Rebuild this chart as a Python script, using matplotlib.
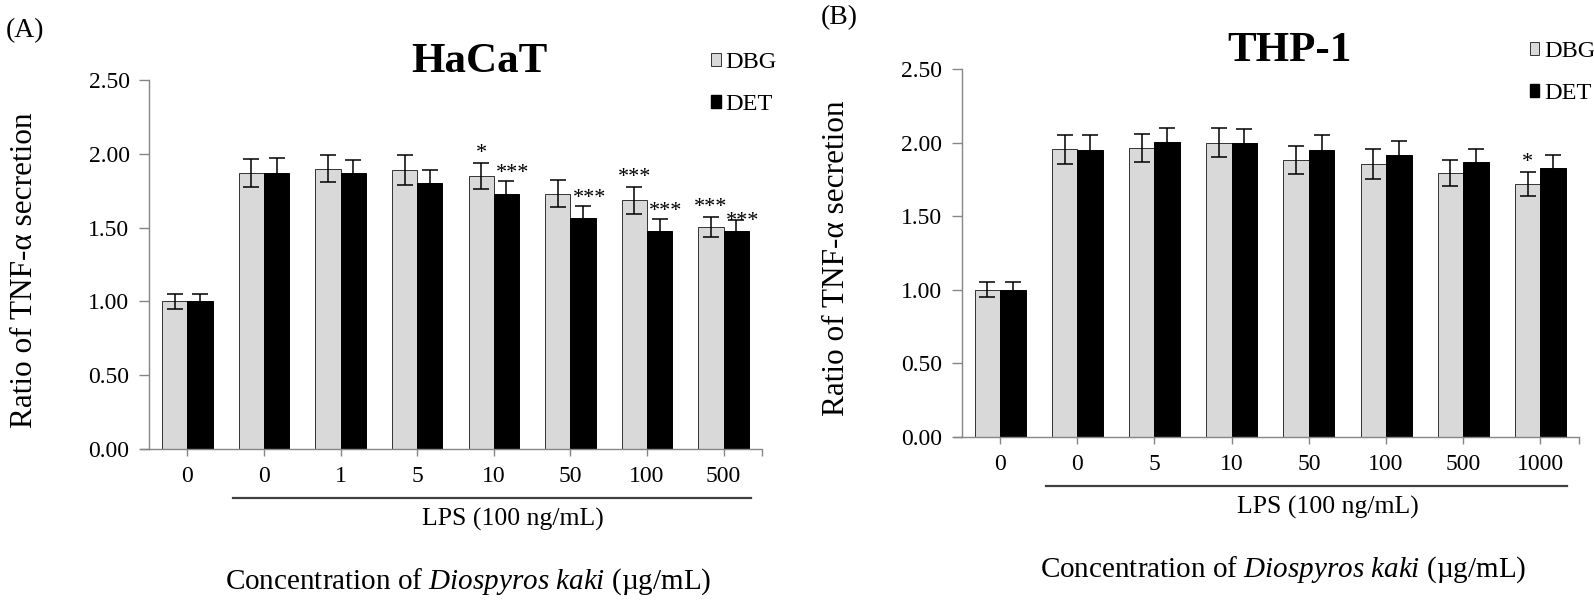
import numpy as np
import matplotlib
matplotlib.use('Agg')
import matplotlib.pyplot as plt
from matplotlib.patches import Patch
from matplotlib.lines import Line2D

plt.rcParams['font.family'] = ['Liberation Serif', 'DejaVu Serif']
plt.rcParams['mathtext.fontset'] = 'custom'
plt.rcParams['mathtext.rm'] = 'Liberation Serif'
plt.rcParams['mathtext.it'] = 'Liberation Serif:italic'

# HaCaT data
hacat_labels = ['0', '0', '1', '5', '10', '50', '100', '500']
hacat_dbg = [1.00, 1.87, 1.90, 1.89, 1.85, 1.73, 1.685, 1.505]
hacat_dbg_err = [0.05, 0.095, 0.09, 0.10, 0.09, 0.09, 0.09, 0.07]
hacat_det = [1.00, 1.87, 1.87, 1.80, 1.725, 1.565, 1.475, 1.475]
hacat_det_err = [0.05, 0.10, 0.09, 0.09, 0.09, 0.08, 0.08, 0.075]
hacat_dbg_sig = ['', '', '', '', '*', '', '***', '***']
hacat_det_sig = ['', '', '', '', '***', '***', '***', '***']

# THP-1 data
thp_labels = ['0', '0', '5', '10', '50', '100', '500', '1000']
thp_dbg = [1.00, 1.955, 1.965, 2.00, 1.885, 1.855, 1.795, 1.72]
thp_dbg_err = [0.05, 0.10, 0.095, 0.10, 0.095, 0.10, 0.09, 0.08]
thp_det = [1.00, 1.95, 2.005, 1.995, 1.95, 1.915, 1.865, 1.825]
thp_det_err = [0.05, 0.10, 0.095, 0.095, 0.10, 0.095, 0.09, 0.09]
thp_dbg_sig = ['', '', '', '', '', '', '', '*']
thp_det_sig = ['', '', '', '', '', '', '', '']

GRAY = '#d9d9d9'
AX_COL = '#868686'

fig = plt.figure(figsize=(15.94, 6.03), dpi=100)
W, H = 1594, 603
axA = fig.add_axes([141.3 / W, 1 - 449 / H, (762 - 141.3) / W, 369 / H])
axB = fig.add_axes([953.8 / W, 1 - 437 / H, (1579 - 953.8) / W, 368 / H])

def draw(ax, labels, dbg, dbg_err, det, det_err, dbg_sig, det_sig, title, tx, legx, legy):
    x = np.arange(len(labels))
    w = 0.33
    ekw = dict(ecolor='black', elinewidth=1.1, capsize=5.5, capthick=1.1)
    ax.bar(x - w / 2, dbg, w, yerr=dbg_err, color=GRAY, edgecolor='#333333',
           linewidth=0.7, error_kw=ekw, label='DBG', zorder=2)
    ax.bar(x + w / 2, det, w, yerr=det_err, color='black', edgecolor='black',
           linewidth=0.7, error_kw=ekw, label='DET', zorder=2)
    for i in range(len(labels)):
        if dbg_sig[i]:
            ax.text(x[i] - w / 2, dbg[i] + dbg_err[i] + 0.0, dbg_sig[i],
                    ha='center', va='bottom', fontsize=16)
        if det_sig[i]:
            off = 0.0 if i < len(labels) - 1 else -0.06
            ax.text(x[i] + w / 2 + 0.08, det[i] + det_err[i] + off - 0.01, det_sig[i],
                    ha='center', va='bottom', fontsize=16)
    ax.set_xlim(-0.6, 7.5)
    ax.set_ylim(0, 2.5)
    ax.set_yticks(np.arange(0, 2.51, 0.5))
    ax.set_yticklabels(['%.2f' % v for v in np.arange(0, 2.51, 0.5)])
    ax.set_xticks(x)
    ax.set_xticklabels(labels)
    ax.set_xticks([7.5], minor=True)
    ax.spines['top'].set_visible(False)
    ax.spines['right'].set_visible(False)
    ax.spines['left'].set_position(('data', -0.5))
    for s in ['left', 'bottom']:
        ax.spines[s].set_color(AX_COL)
        ax.spines[s].set_linewidth(1.0)
    ax.tick_params(axis='both', which='both', colors=AX_COL, labelcolor='black',
                   labelsize=17, width=1.0)
    ax.tick_params(axis='x', which='both', length=5, pad=7)
    ax.tick_params(axis='y', length=7, pad=7)
    ax.set_ylabel('Ratio of TNF-α secretion', fontsize=22.5)
    ax.yaxis.set_label_coords(-0.165, 0.485)
    ax.text(tx, 2.62, title, fontsize=31, fontweight='bold', ha='center', va='center')
    trans = ax.get_xaxis_transform()
    ax.add_line(Line2D([0.6, 7.35], [-0.133, -0.133], transform=trans, color='#404040',
                       lw=1.6, clip_on=False))
    ax.text(4.25, -0.192, 'LPS (100 ng/mL)', transform=trans, fontsize=18.5,
            ha='center', va='center')
    ax.text(3.67, -0.36, r'Concentration of $\mathit{Diospyros\ kaki}$ (µg/mL)',
            transform=trans, fontsize=21, ha='center', va='center')
    handles = [Patch(facecolor=GRAY, edgecolor='#333333', linewidth=0.7, label='DBG'),
               Patch(facecolor='black', edgecolor='black', label='DET')]
    ax.legend(handles=handles, loc='upper left', bbox_to_anchor=(legx, legy),
              frameon=False, fontsize=17.5, handlelength=0.4, handleheight=0.45,
              handletextpad=0.2, labelspacing=0.85, borderpad=0, borderaxespad=0)

draw(axA, hacat_labels, hacat_dbg, hacat_dbg_err, hacat_det, hacat_det_err,
     hacat_dbg_sig, hacat_det_sig, 'HaCaT', 3.81, 0.918, 1.075)
draw(axB, thp_labels, thp_dbg, thp_dbg_err, thp_det, thp_det_err,
     thp_dbg_sig, thp_det_sig, 'THP-1', 3.75, 0.921, 1.075)

fig.text(6 / W, 1 - 31 / H, '(A)', fontsize=20, ha='left', va='center')
fig.text(821 / W, 1 - 18 / H, '(B)', fontsize=20, ha='left', va='center')

fig.savefig('out.png', dpi=100)
